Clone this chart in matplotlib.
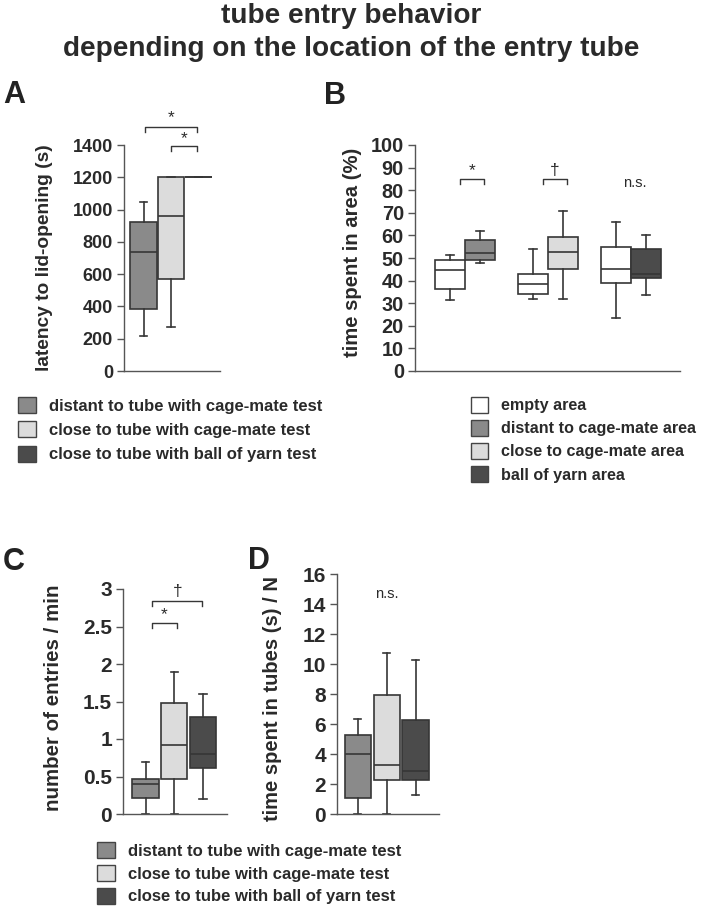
import matplotlib
matplotlib.use("Agg")
import matplotlib.pyplot as plt
from matplotlib.patches import Patch

plt.rcParams['font.family'] = ['Liberation Sans', 'DejaVu Sans']

# ---------------- data ----------------
# Panel A: latency to lid-opening (s)
A_labels = ["distant to tube with cage-mate test",
            "close to tube with cage-mate test",
            "close to tube with ball of yarn test"]
A_whislo = [215, 270, 1200]
A_q1 = [383, 570, 1200]
A_med = [735, 960, 1200]
A_q3 = [925, 1200, 1200]
A_whishi = [1045, 1200, 1200]

# Panel B: time spent in area (%)
B_labels = ["empty area", "distant to cage-mate area",
            "close to cage-mate area", "ball of yarn area"]
B_groups = ["distant", "close", "yarn"]
B_whislo = [31.5, 48, 32, 32, 23.5, 33.5]
B_q1 = [36.5, 49, 34, 45, 39, 41]
B_med = [44.5, 52, 38.5, 52.5, 45, 43]
B_q3 = [49, 58, 43, 59.5, 55, 54]
B_whishi = [51.5, 62, 54, 71, 66, 60]
B_sig = ["*", "†", "n.s."]

# Panel C: number of entries / min
C_whislo = [0, 0, 0.2]
C_q1 = [0.22, 0.47, 0.62]
C_med = [0.40, 0.92, 0.80]
C_q3 = [0.47, 1.48, 1.30]
C_whishi = [0.70, 1.90, 1.60]

# Panel D: time spent in tubes (s) / N
D_whislo = [0, 0, 1.25]
D_q1 = [1.05, 2.3, 2.3]
D_med = [4.0, 3.3, 2.85]
D_q3 = [5.3, 7.95, 6.25]
D_whishi = [6.35, 10.75, 10.3]

# ---------------- style ----------------
C_DIST = "#8a8a8a"
C_CLOSE = "#dcdcdc"
C_YARN = "#4b4b4b"
C_EMPTY = "#ffffff"
EDGE = "#363636"
TXT = "#2a2a2a"
LW = 1.2

fig = plt.figure(figsize=(7.03, 9.10), dpi=100)

def stats(lo, q1, med, q3, hi):
    return [dict(whislo=a, q1=b, med=c, q3=d, whishi=e, fliers=[])
            for a, b, c, d, e in zip(lo, q1, med, q3, hi)]

def draw_boxes(ax, st, pos, colors, width):
    res = ax.bxp(st, positions=pos, widths=width, capwidths=width * 0.28,
                 patch_artist=True, showfliers=False,
                 boxprops=dict(edgecolor=EDGE, linewidth=LW),
                 medianprops=dict(color=EDGE, linewidth=LW),
                 whiskerprops=dict(color=EDGE, linewidth=LW),
                 capprops=dict(color=EDGE, linewidth=LW))
    for b, c in zip(res['boxes'], colors):
        b.set_facecolor(c)
    for ln in res['whiskers'] + res['caps'] + res['medians']:
        ln.set_clip_on(False)

def style_axes(ax, ylim, yticks, tick_fs):
    ax.set_ylim(*ylim)
    ax.set_yticks(yticks)
    ax.set_yticklabels([("%g" % t) for t in yticks], fontsize=tick_fs,
                       fontweight='bold', color=TXT)
    ax.set_xticks([])
    for s in ['top', 'right']:
        ax.spines[s].set_visible(False)
    for s in ['left', 'bottom']:
        ax.spines[s].set_color('#555555')
        ax.spines[s].set_linewidth(1.0)
    ax.tick_params(axis='y', direction='out', length=5, width=1.0,
                   color='#555555', pad=3)
    ax.patch.set_alpha(0)

def bracket(ax, x1, x2, y, tip, text, ty, fs=12.5):
    ax.plot([x1, x1, x2, x2], [y - tip, y, y, y - tip], color=EDGE,
            lw=1.0, clip_on=False)
    ax.text((x1 + x2) / 2, ty, text, ha='center', va='center',
            fontsize=fs, color=TXT, clip_on=False)

# ---------------- Panel A ----------------
axA = fig.add_axes([124/703, 1-371/910, 96/703, 226/910])
posA = [1, 2, 3]
draw_boxes(axA, stats(A_whislo, A_q1, A_med, A_q3, A_whishi), posA,
           [C_DIST, C_CLOSE, C_YARN], 0.95)
axA.set_xlim(0.29, 3.78)
style_axes(axA, (0, 1400), [0, 200, 400, 600, 800, 1000, 1200, 1400], 13)
axA.set_ylabel("latency to lid-opening (s)", fontsize=13.8, fontweight='bold',
               color=TXT)
axA.yaxis.set_label_coords(-0.74, 0.5)
bracket(axA, 1.05, 2.95, 1511, 32, "*", 1570)
bracket(axA, 2.0, 2.95, 1394, 32, "*", 1440)

# ---------------- Panel B ----------------
axB = fig.add_axes([415/703, 1-371/910, 265/703, 226/910])
gB = [1, 2, 3]
wB = 0.36
posB = []
for g in gB:
    posB += [g - wB/2, g + wB/2]
draw_boxes(axB, stats(B_whislo, B_q1, B_med, B_q3, B_whishi), posB,
           [C_EMPTY, C_DIST, C_EMPTY, C_CLOSE, C_EMPTY, C_YARN], wB)
axB.set_xlim(0.4, 3.59)
style_axes(axB, (0, 100), list(range(0, 101, 10)), 14.3)
axB.set_ylabel("time spent in area (%)", fontsize=14.6, fontweight='bold',
               color=TXT)
axB.yaxis.set_label_coords(-0.2, 0.525)
for g, s in zip(gB, B_sig):
    if s == "n.s.":
        axB.text(g + 0.05, 83, s, ha='center', va='center', fontsize=10.5,
                 color=TXT)
    else:
        bracket(axB, g - 0.06, g + 0.23, 85, 2.3, s, 88.5)

# ---------------- Panel C ----------------
axC = fig.add_axes([123/703, 1-814/910, 104/703, 225/910])
posC = [1, 2, 3]
draw_boxes(axC, stats(C_whislo, C_q1, C_med, C_q3, C_whishi), posC,
           [C_DIST, C_CLOSE, C_YARN], 0.92)
axC.set_xlim(0.21, 3.84)
style_axes(axC, (0, 3), [0, 0.5, 1, 1.5, 2, 2.5, 3], 15)
axC.set_ylabel("number of entries / min", fontsize=14.8, fontweight='bold',
               color=TXT)
axC.yaxis.set_label_coords(-0.58, 0.515)
bracket(axC, 1.23, 2.98, 2.84, 0.07, "†", 2.97)
bracket(axC, 1.23, 2.08, 2.55, 0.07, "*", 2.66)

# ---------------- Panel D ----------------
axD = fig.add_axes([337/703, 1-814/910, 102/703, 240/910])
posD = [1, 2, 3]
draw_boxes(axD, stats(D_whislo, D_q1, D_med, D_q3, D_whishi), posD,
           [C_DIST, C_CLOSE, C_YARN], 0.9)
axD.set_xlim(0.29, 3.81)
style_axes(axD, (0, 16), list(range(0, 17, 2)), 15)
axD.set_ylabel("time spent in tubes (s) / N", fontsize=14.5, fontweight='bold',
               color=TXT)
axD.yaxis.set_label_coords(-0.54, 0.48)
axD.text(2, 14.7, "n.s.", ha='center', va='center', fontsize=10.5, color=TXT)

# ---------------- legends ----------------
def legend(labels, colors, x, y, spacing, size):
    handles = [Patch(facecolor=c, edgecolor='#444444', linewidth=1.0)
               for c in colors]
    lg = fig.legend(handles, labels, loc='upper left',
                    bbox_to_anchor=(x/703, 1-y/910), frameon=False,
                    borderaxespad=0, borderpad=0, handlelength=1.05,
                    handleheight=1.12, handletextpad=0.8,
                    labelspacing=spacing,
                    prop=dict(size=size, weight='bold'))
    for t in lg.get_texts():
        t.set_color(TXT)

legend(A_labels, [C_DIST, C_CLOSE, C_YARN], 18, 397, 0.45, 12)
legend(B_labels, [C_EMPTY, C_DIST, C_CLOSE, C_YARN], 471, 397, 0.42, 11.6)
legend(A_labels, [C_DIST, C_CLOSE, C_YARN], 97, 842, 0.36, 12)

# ---------------- titles & panel letters ----------------
fig.text(0.5, 1-23/910, "tube entry behavior", ha='center', va='baseline',
         fontsize=20.2, fontweight='bold', color=TXT)
fig.text(0.5, 1-56/910, "depending on the location of the entry tube",
         ha='center', va='baseline', fontsize=20.2, fontweight='bold',
         color=TXT)
for lbl, x, y in [("A", 3, 95), ("B", 324, 96), ("C", 3, 562), ("D", 248, 561)]:
    fig.text(x/703, 1-y/910, lbl, ha='left', va='center', fontsize=22,
             fontweight='bold', color='#222222')

fig.savefig("out.png", dpi=100)
